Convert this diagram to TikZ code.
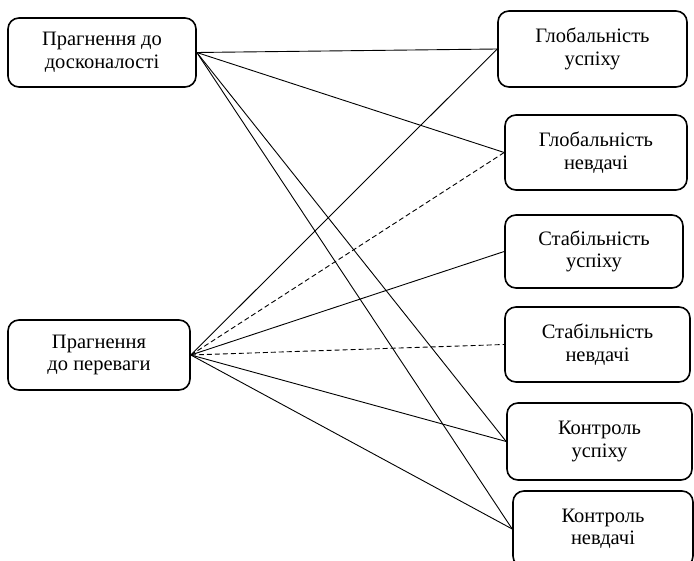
\documentclass[tikz,border=0pt]{standalone}
\usepackage{fontspec}
\setmainfont{Liberation Serif}
\usepackage{tikz}
\usetikzlibrary{positioning}

\tikzset{
  factor/.style={draw, line width=1.6pt, rounded corners=11pt, align=center,
    font=\fontsize{20.5}{22.5}\selectfont},
  link/.style={line width=0.9pt},
  weaklink/.style={line width=0.9pt, dashed, dash pattern=on 5pt off 3pt}
}

\begin{document}
\begin{tikzpicture}[x=1pt,y=-1pt]
				% page frame
				\useasboundingbox (0,0) rectangle (694,561);
				
				% left boxes
				\node[factor, minimum width=188pt, minimum height=69pt] (perf) at (102,52.5) {Прагнення до\\досконалості};
				\node[factor, minimum width=182pt, minimum height=70pt] (sup) at (99,355) {Прагнення\\до переваги};
				
				% right boxes
				\node[factor, minimum width=189pt, minimum height=76pt] (glu) at (592.5,49) {Глобальність\\успіху};
				\node[factor, minimum width=182pt, minimum height=75pt] (gln) at (596,152.5) {Глобальність\\невдачі};
				\node[factor, minimum width=178pt, minimum height=73pt] (stu) at (594,251.5) {Стабільність\\успіху};
				\node[factor, minimum width=185pt, minimum height=75pt] (stn) at (597.5,344.5) {Стабільність\\невдачі};
				\node[factor, minimum width=185pt, minimum height=77pt] (kou) at (599.5,441.5) {Контроль\\успіху};
				\node[factor, minimum width=180pt, minimum height=76pt] (kon) at (603,529) {Контроль\\невдачі};
				
				% links from the first box
				\draw[link] (perf.east) -- (glu.west);
				\draw[link] (perf.east) -- (gln.west);
				\draw[link] (perf.east) -- (kou.west);
				\draw[link] (perf.east) -- (kon.west);
				
				% links from the second box
				\draw[link] (sup.east) -- (glu.west);
				\draw[weaklink] (sup.east) -- (gln.west);
				\draw[link] (sup.east) -- (stu.west);
				\draw[weaklink] (sup.east) -- (stn.west);
				\draw[link] (sup.east) -- (kou.west);
				\draw[link] (sup.east) -- (kon.west);
				
				\end{tikzpicture}
\end{document}
